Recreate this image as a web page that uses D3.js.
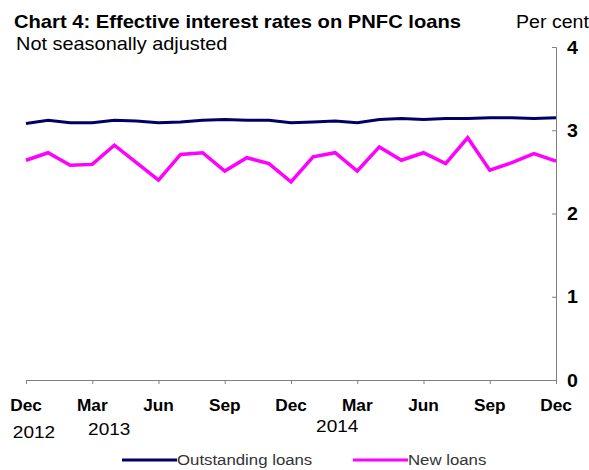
<!DOCTYPE html>
<head>
  <meta charset="utf-8">
  <title>Chart 4: Effective interest rates on PNFC loans</title>
  <script src="https://cdn.jsdelivr.net/npm/d3@7/dist/d3.min.js"></script>
  <style>
    body { margin: 0; background: #fff; }
    svg { font-family: "Liberation Sans", Arial, sans-serif; }
  </style>
</head>
<body>
<div id="chart"></div>
<script>
// monthly, Dec 2012 .. Dec 2014
const months = ['Dec','Jan','Feb','Mar','Apr','May','Jun','Jul','Aug','Sep','Oct','Nov',
                'Dec','Jan','Feb','Mar','Apr','May','Jun','Jul','Aug','Sep','Oct','Nov','Dec'];
const outstanding = [3.08,3.12,3.09,3.09,3.12,3.11,3.09,3.10,3.12,3.13,3.12,3.12,
                     3.09,3.10,3.11,3.09,3.13,3.14,3.13,3.14,3.14,3.15,3.15,3.14,3.15];
const newLoans = [2.64,2.73,2.58,2.59,2.82,2.61,2.40,2.71,2.73,2.51,2.67,2.60,
                  2.38,2.68,2.73,2.51,2.80,2.64,2.73,2.60,2.91,2.52,2.61,2.72,2.63];
const yTicks = [0,1,2,3,4];
const yearLabels = ['2012', '2013', '2014'];

const width = 589, height = 470;
const sx = 1.12; // text in the original is a little wide
const svg = d3.select('#chart').append('svg')
  .attr('width', width).attr('height', height);

const x = d3.scaleLinear().domain([0, 24]).range([26, 556]);
const y = d3.scaleLinear().domain([0, 4]).range([380, 47]);

function label(px, py, txt, size, weight, anchor, s) {
  return svg.append('text')
    .attr('transform', `translate(${px},${py}) scale(${s || sx},1)`)
    .attr('text-anchor', anchor || 'start')
    .style('font-size', size + 'px')
    .style('font-weight', weight || 'normal')
    .text(txt);
}

// titles
label(14, 28, 'Chart 4: Effective interest rates on PNFC loans', 18, 'bold');
label(16, 50, 'Not seasonally adjusted', 17.8);
label(516, 28, 'Per cent', 17.5);

// y axis on the right, ticks point inward
const yAxis = svg.append('g').attr('transform', 'translate(556,0)')
  .call(d3.axisLeft(y).tickValues(yTicks).tickSize(4).tickFormat(''));
yAxis.select('.domain').attr('stroke', '#808080');
yAxis.selectAll('.tick line').attr('stroke', '#808080');
yTicks.forEach(d => label(567, y(d) + 6.5, d, 17.5, 'bold'));

// x axis
const xAxis = svg.append('g').attr('transform', 'translate(0,380)')
  .call(d3.axisBottom(x).tickValues(d3.range(0, 25, 3)).tickSize(4).tickSizeOuter(0).tickFormat(''));
xAxis.select('.domain').attr('stroke', '#808080');
xAxis.selectAll('.tick line').attr('stroke', '#808080');
d3.range(0, 25, 3).forEach(d => label(x(d), 411, months[d], 16, 'bold', 'middle', 1.08));
label(x(0) + 8, 438, yearLabels[0], 17, 'normal', 'middle');
label(x(3) + 17, 435, yearLabels[1], 17, 'normal', 'middle');
label(x(15) - 20, 432, yearLabels[2], 17, 'normal', 'middle');

// lines
const line = d3.line().x((d, i) => x(i)).y(d => y(d));
svg.append('path').datum(outstanding)
  .attr('fill', 'none').attr('stroke', '#000066').attr('stroke-width', 3)
  .attr('d', line);
svg.append('path').datum(newLoans)
  .attr('fill', 'none').attr('stroke', '#FF00FF').attr('stroke-width', 3.5)
  .attr('d', line);

// legend
const legend = [{name:'Outstanding loans', c:'#000066', x:122}, {name:'New loans', c:'#FF00FF', x:353}];
legend.forEach(d => {
  svg.append('line')
    .attr('x1', d.x).attr('x2', d.x + 55)
    .attr('y1', 460).attr('y2', 460)
    .attr('stroke', d.c).attr('stroke-width', 3);
  label(d.x + 55, 465, d.name, 15).style('fill', '#333');
});
</script>
</body>
